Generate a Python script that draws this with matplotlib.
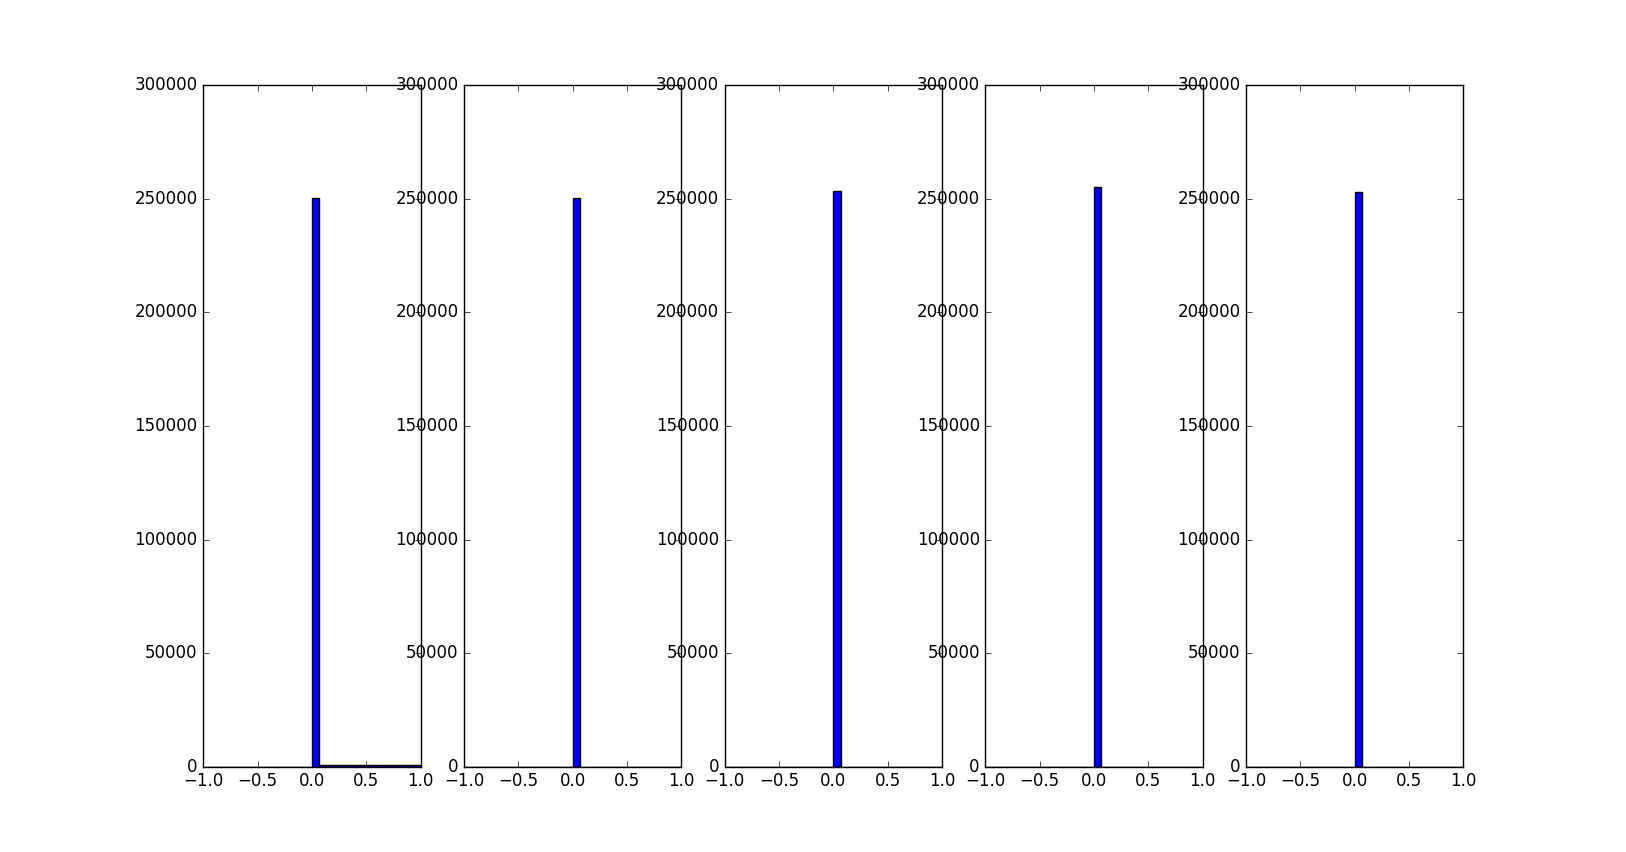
import numpy as np
import matplotlib
matplotlib.use("Agg")
import matplotlib.pyplot as plt

plt.style.use("classic")

# histogram bin edges (30 bins over [-1, 1])
n_bins = 30
bin_edges = np.linspace(-1.0, 1.0, n_bins + 1)

# counts per panel: only non-empty bins listed (bin index -> count)
panel1_counts = {15: 250500, 16: 900, 17: 850, 18: 900, 19: 850, 20: 900,
                 21: 900, 22: 850, 23: 900, 24: 850, 25: 900, 26: 850,
                 27: 900, 28: 850, 29: 900}
panel2_counts = {15: 250500}
panel3_counts = {15: 253300}
panel4_counts = {15: 255300}
panel5_counts = {15: 252900}
panels = [panel1_counts, panel2_counts, panel3_counts, panel4_counts, panel5_counts]

yticks = [0, 50000, 100000, 150000, 200000, 250000, 300000]
xticks = [-1.0, -0.5, 0.0, 0.5, 1.0]

fig, axes = plt.subplots(1, 5, figsize=(16.26, 8.52), dpi=100)
for ax, counts in zip(axes, panels):
    weights = np.zeros(n_bins)
    for k, v in counts.items():
        weights[k] = v
    centers = 0.5 * (bin_edges[:-1] + bin_edges[1:])
    ax.hist(centers, bins=bin_edges, weights=weights, color="b", edgecolor="k")
    ax.set_xlim(-1, 1)
    ax.set_ylim(0, 300000)
    ax.set_xticks(xticks)
    ax.set_yticks(yticks)
    ax.set_xticklabels(["\u22121.0", "\u22120.5", "0.0", "0.5", "1.0"])

fig.savefig("out.png", dpi=100)
